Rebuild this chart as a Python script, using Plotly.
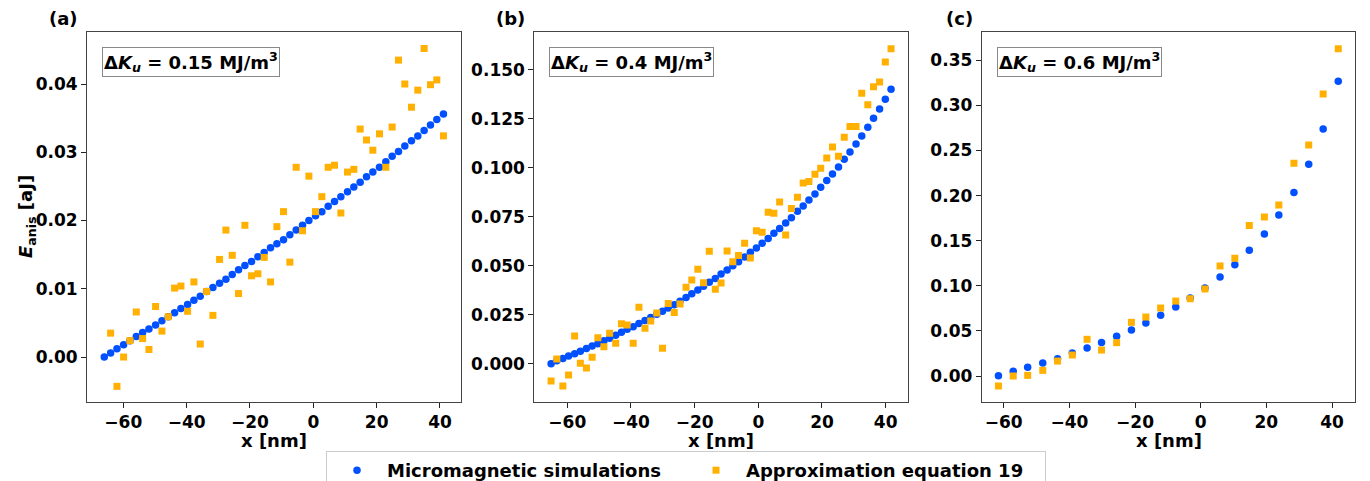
import plotly.graph_objects as go

W, H = 1370, 481

# ---- panel (a): dKu = 0.15 MJ/m^3 ----
x_a = [-66.0, -64.0, -62.0, -59.9, -57.9, -55.9, -53.9, -51.9, -49.8, -47.8,
       -45.8, -43.8, -41.8, -39.7, -37.7, -35.7, -33.7, -31.7, -29.6, -27.6,
       -25.6, -23.6, -21.6, -19.5, -17.5, -15.5, -13.5, -11.5, -9.4, -7.4,
       -5.4, -3.4, -1.4, 0.7, 2.7, 4.7, 6.7, 8.7, 10.8, 12.8,
       14.8, 16.8, 18.8, 20.9, 22.9, 24.9, 26.9, 28.9, 31.0, 33.0,
       35.0, 37.0, 39.0, 41.1]
sim_a = [0.0000, 0.0006, 0.0012, 0.0018, 0.0024, 0.0030, 0.0036, 0.0041, 0.0047, 0.0053,
         0.0059, 0.0065, 0.0071, 0.0077, 0.0083, 0.0089, 0.0096, 0.0102, 0.0108, 0.0114,
         0.0121, 0.0128, 0.0134, 0.0140, 0.0147, 0.0153, 0.0160, 0.0166, 0.0172, 0.0179,
         0.0186, 0.0193, 0.0200, 0.0207, 0.0213, 0.0221, 0.0228, 0.0235, 0.0242, 0.0249,
         0.0256, 0.0264, 0.0271, 0.0278, 0.0286, 0.0294, 0.0301, 0.0309, 0.0317, 0.0324,
         0.0332, 0.0340, 0.0348, 0.0356]
x_a_approx = x_a[1:]
approx_a = [0.0035, -0.0043, 0.0000, 0.0024, 0.0066, 0.0027, 0.0011, 0.0074, 0.0038, 0.0059,
            0.0101, 0.0104, 0.0067, 0.0110, 0.0019, 0.0096, 0.0061, 0.0143, 0.0186, 0.0149,
            0.0093, 0.0193, 0.0119, 0.0122, 0.0146, 0.0110, 0.0191, 0.0213, 0.0139, 0.0278,
            0.0185, 0.0265, 0.0213, 0.0235, 0.0278, 0.0281, 0.0211, 0.0271, 0.0275, 0.0334,
            0.0318, 0.0303, 0.0327, 0.0278, 0.0337, 0.0435, 0.0400, 0.0366, 0.0391, 0.0452,
            0.0399, 0.0406, 0.0324]

# ---- panel (b): dKu = 0.4 MJ/m^3 ----
x_b = [-65.1, -63.3, -61.4, -59.6, -57.7, -55.9, -54.0, -52.2, -50.4, -48.5,
       -46.7, -44.8, -43.0, -41.2, -39.3, -37.5, -35.6, -33.8, -31.9, -30.1,
       -28.3, -26.4, -24.6, -22.7, -20.9, -19.0, -17.2, -15.4, -13.5, -11.7,
       -9.8, -8.0, -6.2, -4.3, -2.5, -0.6, 1.2, 3.1, 4.9, 6.7,
       8.6, 10.4, 12.3, 14.1, 15.9, 17.8, 19.6, 21.5, 23.3, 25.2,
       27.0, 28.8, 30.7, 32.5, 34.4, 36.2, 38.1, 39.9, 41.7]
sim_b = [0.0000, 0.0015, 0.0026, 0.0039, 0.0051, 0.0063, 0.0077, 0.0090, 0.0102, 0.0117,
         0.0130, 0.0145, 0.0160, 0.0176, 0.0189, 0.0205, 0.0220, 0.0236, 0.0252, 0.0268,
         0.0284, 0.0301, 0.0319, 0.0338, 0.0357, 0.0376, 0.0396, 0.0416, 0.0435, 0.0458,
         0.0479, 0.0500, 0.0521, 0.0545, 0.0569, 0.0591, 0.0615, 0.0640, 0.0666, 0.0691,
         0.0719, 0.0746, 0.0778, 0.0805, 0.0836, 0.0867, 0.0901, 0.0935, 0.0969, 0.1005,
         0.1044, 0.1081, 0.1122, 0.1163, 0.1207, 0.1253, 0.1301, 0.1350, 0.1401]
approx_b = [-0.0088, 0.0024, -0.0114, -0.0058, 0.0141, 0.0002, -0.0022, 0.0033, 0.0133, 0.0087,
            0.0155, 0.0104, 0.0204, 0.0198, 0.0104, 0.0288, 0.0181, 0.0218, 0.0259, 0.0079,
            0.0308, 0.0262, 0.0305, 0.0390, 0.0427, 0.0482, 0.0414, 0.0574, 0.0380, 0.0412,
            0.0576, 0.0521, 0.0553, 0.0615, 0.0540, 0.0679, 0.0671, 0.0773, 0.0768, 0.0826,
            0.0657, 0.0792, 0.0850, 0.0923, 0.0930, 0.0967, 0.0998, 0.1050, 0.1107, 0.1059,
            0.1156, 0.1212, 0.1212, 0.1381, 0.1323, 0.1415, 0.1439, 0.1541, 0.1609]

# ---- panel (c): dKu = 0.6 MJ/m^3 ----
x_c = [-61.6, -57.1, -52.7, -48.1, -43.6, -39.1, -34.6, -30.2, -25.6, -21.1,
       -16.7, -12.2, -7.6, -3.2, 1.3, 5.9, 10.4, 14.8, 19.4, 23.8,
       28.4, 32.9, 37.3, 41.9]
sim_c = [0.0004, 0.0052, 0.0096, 0.0144, 0.0192, 0.0255, 0.0310, 0.0373, 0.0440, 0.0510,
         0.0588, 0.0673, 0.0765, 0.0865, 0.0976, 0.1098, 0.1234, 0.1393, 0.1574, 0.1785,
         0.2036, 0.2347, 0.2738, 0.3267]
approx_c = [-0.0111, 0.0000, 0.0007, 0.0063, 0.0166, 0.0233, 0.0407, 0.0288, 0.0370, 0.0595,
            0.0654, 0.0754, 0.0831, 0.0857, 0.0965, 0.1220, 0.1305, 0.1670, 0.1763, 0.1896,
            0.2358, 0.2561, 0.3126, 0.3629]

panel_tags = ["(a)", "(b)", "(c)"]
dku_labels = ["0.15", "0.4", "0.6"]
x_ticks = [-60, -40, -20, 0, 20, 40]
y_ticks_a = [0.00, 0.01, 0.02, 0.03, 0.04]
y_ticks_b = [0.000, 0.025, 0.050, 0.075, 0.100, 0.125, 0.150]
y_ticks_c = [0.00, 0.05, 0.10, 0.15, 0.20, 0.25, 0.30, 0.35]

BLUE = "#0050ff"
ORANGE = "#ffb000"
FONT = "DejaVu Sans"

# panel geometry in pixels (left, right) and shared (top, bottom)
panels_px = [(87, 461), (534.3, 908.3), (981.7, 1355.3)]
top_px, bot_px = 32, 402
x_ranges = [[-71.46, 46.64], [-70.37, 47.12], [-66.7, 47.09]]
y_ranges = [[-0.00659, 0.04762], [-0.01956, 0.1694], [-0.0288, 0.3814]]
y_ticks = [y_ticks_a, y_ticks_b, y_ticks_c]
y_fmt = ["{:.2f}", "{:.3f}", "{:.2f}"]


def px(xp):
    return xp / W


def py(yp):
    return 1 - yp / H


def minus(v):
    s = f"{v:g}"
    return s.replace("-", "\u2212")


fig = go.Figure()

data = [
    (x_a, sim_a, x_a_approx, approx_a),
    (x_b, sim_b, x_b, approx_b),
    (x_c, sim_c, x_c, approx_c),
]

for k, (xs, ys, xo, yo) in enumerate(data):
    ax = "" if k == 0 else str(k + 1)
    fig.add_trace(go.Scatter(
        x=xs, y=ys, mode="markers", xaxis="x" + ax, yaxis="y" + ax,
        marker=dict(symbol="circle", size=7.5, color=BLUE, line=dict(width=0)),
        name="Micromagnetic simulations", showlegend=(k == 0),
    ))
    fig.add_trace(go.Scatter(
        x=xo, y=yo, mode="markers", xaxis="x" + ax, yaxis="y" + ax,
        marker=dict(symbol="square", size=7, color=ORANGE, line=dict(width=0)),
        name="Approximation equation 19", showlegend=(k == 0),
    ))

axis_common = dict(
    showgrid=False, zeroline=False, showline=True, mirror=True,
    linecolor="#444444", linewidth=1, ticks="outside", ticklen=5,
    tickcolor="#222222", tickwidth=1,
    tickfont=dict(family=FONT, size=17, color="black", weight="bold"),
)

layout = {}
annotations = []
for k in range(3):
    l, r = panels_px[k]
    ax = "" if k == 0 else str(k + 1)
    layout["xaxis" + ax] = dict(
        axis_common, domain=[px(l), px(r)], range=x_ranges[k],
        anchor="y" + ax, tickvals=x_ticks, ticktext=[minus(v) for v in x_ticks],
    )
    yax = dict(
        axis_common, domain=[py(bot_px), py(top_px)], range=y_ranges[k],
        anchor="x" + ax, tickvals=y_ticks[k],
        ticktext=[y_fmt[k].format(v) for v in y_ticks[k]],
    )
    layout["yaxis" + ax] = yax

    # x-axis title
    annotations.append(dict(
        xref="paper", yref="paper", x=px((l + r) / 2), y=py(429),
        xanchor="center", yanchor="top", showarrow=False, borderpad=0,
        text="<b>x [nm]</b>", font=dict(family=FONT, size=18, color="black"),
    ))
    # panel tag
    annotations.append(dict(
        xref="paper", yref="paper", x=px(l - 7), y=py(18),
        xanchor="right", yanchor="middle", showarrow=False,
        text=f"<b>{panel_tags[k]}</b>",
        font=dict(family=FONT, size=18, color="black"),
    ))
    # anisotropy step label
    annotations.append(dict(
        xref="paper", yref="paper", x=px(l + 15), y=py(47),
        xanchor="left", yanchor="top", showarrow=False,
        text=f"<b>\u0394<i>K</i><sub><i>u</i></sub> = {dku_labels[k]} MJ/m<sup>3</sup></b>",
        font=dict(family=FONT, size=18, color="black"),
        bgcolor="white", bordercolor="#888888", borderwidth=1, borderpad=1,
    ))

# y-axis title of the first panel
annotations.append(dict(
    xref="paper", yref="paper", x=px(27), y=py(217),
    xanchor="center", yanchor="middle", showarrow=False, textangle=-90,
    text="<b><i>E</i><sub>anis</sub> [aJ]</b>",
    font=dict(family=FONT, size=18, color="black"),
))

fig.update_layout(
    width=W, height=H,
    margin=dict(l=0, r=0, t=0, b=0, autoexpand=False),
    paper_bgcolor="white", plot_bgcolor="white",
    annotations=annotations,
    legend=dict(
        orientation="h", x=px(326), xanchor="left", y=py(451), yanchor="top",
        font=dict(family=FONT, size=18, color="black", weight="bold"),
        bgcolor="white", bordercolor="#cccccc", borderwidth=1,
        itemwidth=50, entrywidth=294, entrywidthmode="pixels",
    ),
    **layout,
)

fig.write_html("out.html")
